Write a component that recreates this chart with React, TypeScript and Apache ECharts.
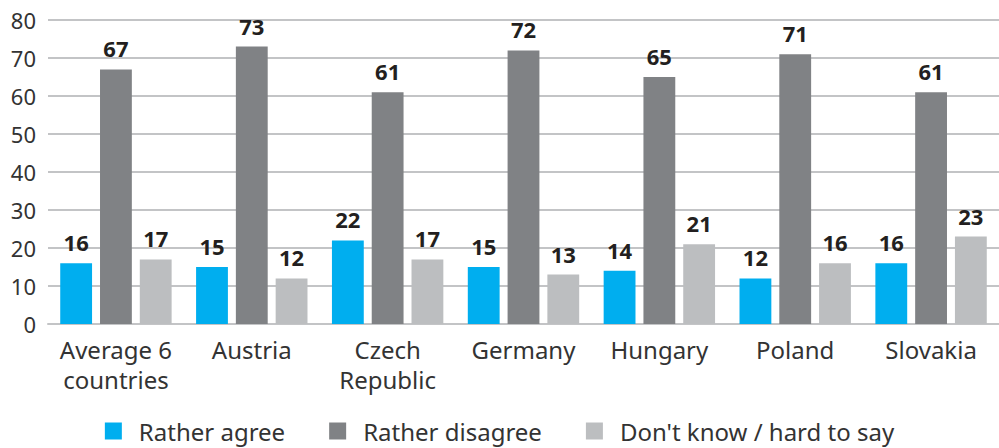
import React, { useEffect, useRef } from "react";
import * as echarts from "echarts";

const categories = ["Average 6\ncountries", "Austria", "Czech\nRepublic", "Germany", "Hungary", "Poland", "Slovakia"];
const ratherAgree = [16, 15, 22, 15, 14, 12, 16];
const ratherDisagree = [67, 73, 61, 72, 65, 71, 61];
const dontKnow = [17, 12, 17, 13, 21, 16, 23];
const yTicks = { min: 0, max: 80, interval: 10 };

const FONT = "'Noto Sans', 'Open Sans', sans-serif";

export default function App() {
  const ref = useRef<HTMLDivElement>(null);
  useEffect(() => {
    if (!ref.current) return;
    const chart = echarts.init(ref.current, undefined, { renderer: "svg" });
    const label = {
      show: true,
      position: "top" as const,
      distance: 10,
      fontFamily: FONT,
      fontWeight: "bold" as const,
      fontSize: 22,
      color: "#231f20",
    };
    chart.setOption({
      animation: false,
      textStyle: { fontFamily: FONT },
      grid: { left: 48, right: 0, top: 20, bottom: 124 },
      legend: {
        bottom: 0,
        left: "center",
        itemWidth: 17,
        itemHeight: 17,
        itemGap: 44,
        icon: "rect",
        textStyle: { fontFamily: FONT, fontSize: 24, color: "#333333", padding: [0, 0, 0, 12] },
      },
      xAxis: {
        type: "category",
        data: categories,
        axisLine: { show: true, lineStyle: { color: "#c3c4c6", width: 2 } },
        axisTick: { show: false },
        axisLabel: {
          interval: 0,
          fontFamily: FONT,
          fontSize: 24,
          color: "#333333",
          margin: 10,
          lineHeight: 30,
        },
      },
      yAxis: {
        type: "value",
        min: yTicks.min,
        max: yTicks.max,
        interval: yTicks.interval,
        axisLine: { show: false },
        axisTick: { show: false },
        splitLine: { lineStyle: { color: "#c3c4c6", width: 2 } },
        axisLabel: { fontFamily: FONT, fontSize: 22, color: "#333333", margin: 12 },
      },
      series: [
        { name: "Rather agree", type: "bar", data: ratherAgree, itemStyle: { color: "#00aeef" }, barGap: "25%", barCategoryGap: "18%", label },
        { name: "Rather disagree", type: "bar", data: ratherDisagree, itemStyle: { color: "#808285" }, label },
        { name: "Don't know / hard to say", type: "bar", data: dontKnow, itemStyle: { color: "#bcbec0" }, label },
      ],
    });
    return () => chart.dispose();
  }, []);
  return <div ref={ref} style={{ width: 999, height: 448, position: "absolute", left: 0, top: 0 }} />;
}
